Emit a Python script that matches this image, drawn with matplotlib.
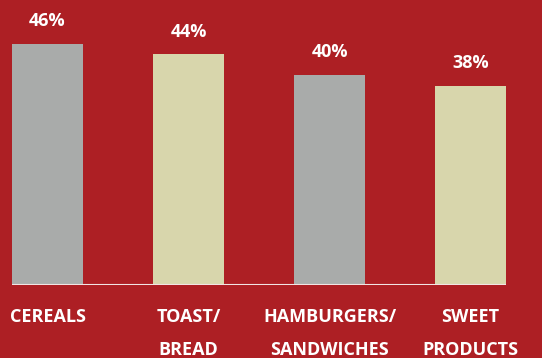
import matplotlib.pyplot as plt

categories = ["CEREALS", "TOAST/\nBREAD", "HAMBURGERS/\nSANDWICHES", "SWEET\nPRODUCTS"]
values = [46, 44, 40, 38]
labels = ["46%", "44%", "40%", "38%"]

bg = "#AD1F24"
colors = ["#A9ABAA", "#D8D6AC", "#A9ABAA", "#D8D6AC"]

plt.rcParams['font.family'] = ['Open Sans', 'DejaVu Sans']

fig = plt.figure(figsize=(5.42, 3.58), dpi=100, facecolor=bg)
ax = fig.add_axes([0, 73 / 358, 1, 285 / 358])
ax.set_facecolor(bg)

x = list(range(len(values)))
w = 0.504
ax.bar(x, values, width=w, color=colors, zorder=2)
ax.hlines(0, x[0] - w / 2, x[-1] + w / 2, color="#F2E4E4", linewidth=1.5, zorder=3)

for xi, v, lab in zip(x, values, labels):
    ax.annotate(lab, (xi, v), xytext=(0, 16.5), textcoords="offset points",
                ha="center", va="center", color="white", fontsize=13, fontweight="bold")

for xi, cat in zip(x, categories):
    for j, line in enumerate(cat.split("\n")):
        ax.annotate(line, (xi, 0), xytext=(0, -22.8 - 23.8 * j), textcoords="offset points",
                    ha="center", va="center", color="white", fontsize=13, fontweight="bold",
                    annotation_clip=False)

ax.set_xlim(-0.337, 3.507)
ax.set_ylim(0, 285 / 5.24)
ax.axis("off")

fig.savefig("out.png", dpi=100, facecolor=bg)
